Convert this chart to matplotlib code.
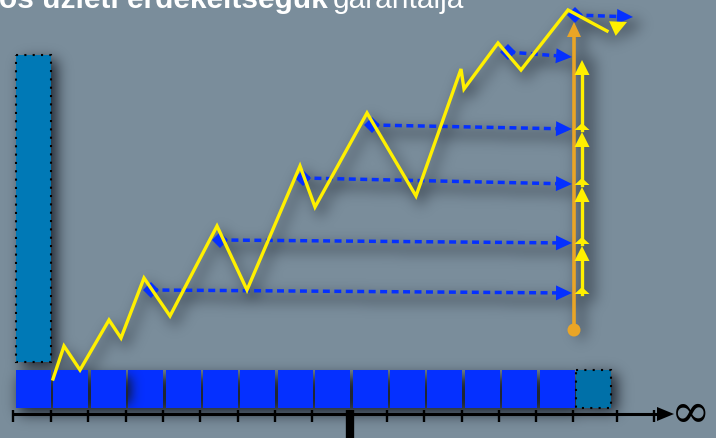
import numpy as np
import matplotlib
matplotlib.use('Agg')
import matplotlib.pyplot as plt
from matplotlib.patches import Rectangle, Polygon, Circle

W, H = 716, 439

# --- data (pixel space of the diagram) ---
zig_x = [53, 64, 80, 109, 121, 144, 170, 217, 247, 300, 315, 367, 416, 461, 464, 498, 521, 568, 607]
zig_y = [380, 347, 371, 321, 339, 279, 317, 227, 291, 167, 208, 114, 197, 70, 90, 44, 71, 11, 32]
zig_tip = (627, 23)

# dashed blue arrows: start point and end point
dash_x0 = [151, 220, 303, 372, 508, 575]
dash_y0 = [291, 241, 179, 126, 53, 16]
dash_x1 = [572, 572, 572, 572, 572, 633]
dash_y1 = [294, 244, 185, 130, 58, 18]

n_squares = 15
axis_ticks = [13, 51, 88, 126, 163, 200, 238, 275, 312, 350, 387, 424, 462, 499, 536, 573, 617, 654]
big_tick = 350

title_bold = "tós üzleti érdekeltségük"
title_rest = "garantálja"

# --- colours ---
bg = '#7a8d9b'
teal = '#0079b6'
blue = '#0530ff'
yellow = '#fff000'
orange = '#eaa526'

fig = plt.figure(figsize=(W / 100, H / 100), dpi=100)
fig.patch.set_facecolor(bg)
ax = fig.add_axes([0, 0, 1, 1])
ax.set_xlim(0, W)
ax.set_ylim(H, 0)
ax.axis('off')

# --- soft drop shadows (rasterised mask, blurred) ---
YY, XX = np.mgrid[0:H, 0:W] + 0.5


def add_rect(mask, x0, y0, x1, y1, dx, dy, val=1.0):
    m = (XX > x0 + dx) & (XX < x1 + dx) & (YY > y0 + dy) & (YY < y1 + dy)
    mask[m] = np.maximum(mask[m], val)


def add_line(mask, xs, ys, r, dx, dy, val=1.0):
    for x0, y0, x1, y1 in zip(xs[:-1], ys[:-1], xs[1:], ys[1:]):
        x0, x1, y0, y1 = x0 + dx, x1 + dx, y0 + dy, y1 + dy
        vx, vy = x1 - x0, y1 - y0
        t = np.clip(((XX - x0) * vx + (YY - y0) * vy) / (vx * vx + vy * vy), 0, 1)
        d = np.hypot(XX - (x0 + t * vx), YY - (y0 + t * vy))
        m = d < r
        mask[m] = np.maximum(mask[m], val)


def blur(a, s):
    k = np.exp(-0.5 * (np.arange(-3 * s, 3 * s + 1) / s) ** 2)
    k /= k.sum()
    a = np.apply_along_axis(lambda r: np.convolve(r, k, 'same'), 1, a)
    a = np.apply_along_axis(lambda c: np.convolve(c, k, 'same'), 0, a)
    return a


def shadow_layer(mask, s, strength, z, clip=None):
    img = np.zeros((H, W, 4))
    img[..., 0:3] = (0.06, 0.08, 0.12)
    img[..., 3] = np.clip(blur(mask, s) * strength, 0, 1)
    im = ax.imshow(img, extent=(0, W, H, 0), zorder=z, interpolation='bilinear')
    if clip is not None:
        im.set_clip_path(clip)


pitch = 37.4
sq_left = 16
sq_w = 35

mask = np.zeros((H, W))
add_rect(mask, 16, 56, 51, 363, 6, 5)
add_rect(mask, sq_left, 371, sq_left + pitch * n_squares, 409, 3, 6)
add_rect(mask, 576, 371, 611, 409, 6, 4)
add_line(mask, zig_x + [zig_tip[0]], zig_y + [zig_tip[1]], 2, 5, 7, 0.8)
for x0, y0, x1, y1 in zip(dash_x0, dash_y0, dash_x1, dash_y1):
    add_line(mask, [x0, x1], [y0, y1], 3, 4, 7, 0.7)
add_line(mask, [574, 574], [331, 23], 4, 7, 5, 0.6)
add_line(mask, [582, 582], [295, 57], 4, 9, 5, 0.6)
shadow_layer(mask, 7, 0.85, 1)


def head(x0, y0, x1, y1, color, L, hw, z):
    d = np.hypot(x1 - x0, y1 - y0)
    ux, uy = (x1 - x0) / d, (y1 - y0) / d
    bx, by = x1 - L * ux, y1 - L * uy
    ax.add_patch(Polygon([(x1, y1), (bx - hw * uy, by + hw * ux), (bx + hw * uy, by - hw * ux)],
                         closed=True, fc=color, ec='none', zorder=z))
    return bx, by


# tall teal bar with dotted border
ax.add_patch(Rectangle((16, 56), 35, 307, fc=teal, ec='black', lw=1.5,
                       linestyle=(0, (1, 3)), zorder=3))

# row of blue squares + dotted teal one
squares = []
for i in range(n_squares):
    p = Rectangle((sq_left + i * pitch, 371), sq_w, 38, fc=blue, ec='none', zorder=3)
    ax.add_patch(p)
    squares.append(p)
ax.add_patch(Rectangle((576, 371), 35, 38, fc='#0070a8', ec='black', lw=1.5,
                       linestyle=(0, (1, 3)), zorder=3))

# dark smudge on the fourth square
spot = np.zeros((H, W))
add_rect(spot, 118, 378, 130, 404, 0, 0)
shadow_layer(spot, 6, 1.1, 3.5, clip=squares[3])

# number line
ax.plot([13, 658], [415, 415], color='black', lw=2.2, solid_capstyle='butt', zorder=4)
ax.vlines(axis_ticks, 411, 423, color='black', lw=1.7, zorder=4)
ax.vlines([big_tick], 411, 445, color='black', lw=6, zorder=4)
head(650, 415, 674, 415, 'black', 17, 7, 4)
ax.text(671, 414, '∞', fontsize=34, family='DejaVu Serif', color='black',
        ha='left', va='center', zorder=4)

# blue dashed arrows
for x0, y0, x1, y1 in zip(dash_x0, dash_y0, dash_x1, dash_y1):
    bx, by = head(x0, y0, x1, y1, blue, 16, 7.5, 4)
    ax.plot([x0, bx], [y0, by], color=blue, lw=2.5, linestyle=(0, (2.0, 1.3)), zorder=4)
    ax.plot([x0], [y0], marker='D', color=blue, ms=8, mew=0, zorder=4)

# yellow zigzag with arrow at the end
ax.plot(zig_x, zig_y, color=yellow, lw=2.4, solid_joinstyle='miter', zorder=5)
head(zig_x[-1], zig_y[-1], zig_tip[0], zig_tip[1], yellow, 16, 8, 5)

# orange vertical arrow
bx, by = head(574, 331, 574, 23, orange, 15, 7, 5)
ax.plot([574, 574], [331, by], color=orange, lw=2.6, zorder=5)
ax.add_patch(Circle((574, 331), 6.5, fc=orange, ec='none', zorder=5))

# yellow stepping arrows
levels = dash_y1[:5]
for lo, hi in zip(levels[:-1], levels[1:]):
    base = lo + 1
    tip = hi + 3
    ax.add_patch(Polygon([(582 - 7.5, base), (582 + 7.5, base), (582, base - 7)],
                         closed=True, fc=yellow, ec='none', zorder=6))
    bx, by = head(582, base, 582, tip, yellow, 15, 7.5, 6)
    ax.plot([582, 582], [base, by], color=yellow, lw=2.4, zorder=6)

# title text, cut off at the top edge as in the original
ax.text(328, 8, title_bold, fontsize=21.5, fontweight='bold', family='Liberation Sans',
        color='white', ha='right', va='baseline', zorder=7)
ax.text(333, 8, title_rest, fontsize=21.5, family='Liberation Sans',
        color='white', ha='left', va='baseline', zorder=7)

fig.savefig('out.png', dpi=100, facecolor=bg)
